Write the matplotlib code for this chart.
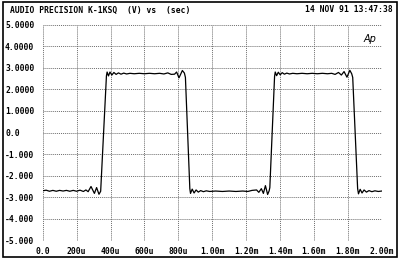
import matplotlib.pyplot as plt
from matplotlib.patches import Rectangle

# waveform trace (time in ms, level in V)
time_ms = [
    0.000, 0.020, 0.040, 0.060, 0.080, 0.100, 0.120, 0.140, 0.160, 0.180,
    0.200, 0.220, 0.240, 0.255, 0.268, 0.285, 0.305, 0.318, 0.332, 0.342,
    0.376, 0.380, 0.388, 0.397, 0.408, 0.420, 0.433, 0.447, 0.462, 0.478,
    0.495, 0.515, 0.540, 0.570, 0.600, 0.630, 0.660, 0.690, 0.715, 0.738,
    0.758, 0.778, 0.790, 0.804, 0.824, 0.836, 0.842, 0.868, 0.872, 0.882,
    0.893, 0.905, 0.918, 0.932, 0.948, 0.965, 0.985, 1.020, 1.060, 1.100,
    1.140, 1.180, 1.210, 1.235, 1.262, 1.275, 1.290, 1.302, 1.314, 1.327,
    1.336, 1.340, 1.368, 1.372, 1.380, 1.390, 1.401, 1.413, 1.426, 1.440,
    1.456, 1.475, 1.500, 1.530, 1.560, 1.590, 1.620, 1.650, 1.680, 1.705,
    1.725, 1.745, 1.762, 1.778, 1.795, 1.812, 1.823, 1.829, 1.858, 1.863,
    1.873, 1.884, 1.896, 1.910, 1.925, 1.942, 1.960, 1.980, 2.000,
]
volts = [
    -2.70, -2.67, -2.72, -2.68, -2.72, -2.68, -2.71, -2.68, -2.72, -2.68,
    -2.72, -2.67, -2.73, -2.66, -2.74, -2.50, -2.82, -2.55, -2.86, -2.72,
    2.62, 2.80, 2.62, 2.80, 2.66, 2.78, 2.69, 2.76, 2.70, 2.75,
    2.71, 2.74, 2.72, 2.74, 2.72, 2.74, 2.72, 2.74, 2.71, 2.76,
    2.69, 2.70, 2.80, 2.53, 2.87, 2.75, 2.55, -2.60, -2.82, -2.62,
    -2.80, -2.66, -2.76, -2.69, -2.74, -2.70, -2.73, -2.71, -2.73, -2.71,
    -2.73, -2.71, -2.73, -2.68, -2.66, -2.77, -2.60, -2.82, -2.46, -2.87,
    -2.70, -2.55, 2.60, 2.80, 2.63, 2.79, 2.67, 2.77, 2.70, 2.75,
    2.71, 2.74, 2.72, 2.74, 2.72, 2.74, 2.72, 2.74, 2.72, 2.74,
    2.69, 2.78, 2.66, 2.82, 2.56, 2.88, 2.72, 2.55, -2.60, -2.84,
    -2.63, -2.80, -2.66, -2.76, -2.69, -2.74, -2.70, -2.73, -2.71,
]

x_ticks = [0.0, 0.2, 0.4, 0.6, 0.8, 1.0, 1.2, 1.4, 1.6, 1.8, 2.0]
x_labels = ['0.0', '200u', '400u', '600u', '800u', '1.00m',
            '1.20m', '1.40m', '1.60m', '1.80m', '2.00m']
y_ticks = [5, 4, 3, 2, 1, 0, -1, -2, -3, -4, -5]
y_labels = ['5.0000', '4.0000', '3.0000', '2.0000', '1.0000', '0.0',
            '-1.000', '-2.000', '-3.000', '-4.000', '-5.000']

mono = dict(family='DejaVu Sans Mono', weight='bold', size=5.8)

fig = plt.figure(figsize=(4, 2.6), dpi=100)
ax = fig.add_axes([42.7 / 400, 19.5 / 260, 339 / 400, 216 / 260])

ax.plot(time_ms, volts, color='black', lw=0.9)
ax.set_xlim(0, 2.0)
ax.set_ylim(-5, 5)

ax.set_xticks(x_ticks)
ax.set_xticklabels(x_labels, **mono)
ax.set_yticks(y_ticks)
ax.set_yticklabels(y_labels, **mono)
for lab in ax.get_yticklabels():
    lab.set_horizontalalignment('left')
ax.tick_params(axis='y', length=0, pad=27.1)
ax.tick_params(axis='x', length=0, pad=4.5)

# dotted grey grid, also used as the plot frame
ax.grid(True, color='#6e6e6e', linestyle=(0, (1, 1)), lw=0.7)
for s in ax.spines.values():
    s.set_visible(False)

ax.text(0.985, 0.955, 'Ap', transform=ax.transAxes, ha='right', va='top',
        fontsize=7, style='italic', family='DejaVu Sans')

fig.text(10 / 400, 1 - 10 / 260, 'AUDIO PRECISION K-1KSQ  (V) vs  (sec)',
         ha='left', va='center', **mono)
fig.text(393 / 400, 1 - 10 / 260, '14 NOV 91 13:47:38',
         ha='right', va='center', **mono)

fig.patches.append(Rectangle((3 / 400, 3 / 260), 394 / 400, 255 / 260,
                             transform=fig.transFigure, fill=False,
                             edgecolor='black', lw=1.2))

fig.savefig('out.png', dpi=100)
